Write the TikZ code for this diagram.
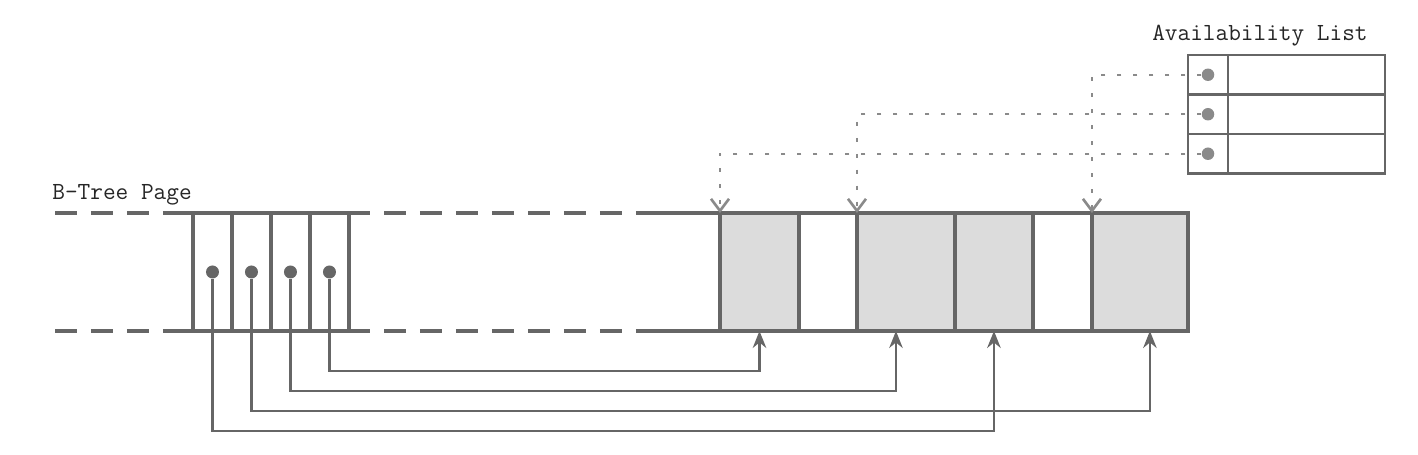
\documentclass[tikz,border=0pt]{standalone}
\usepackage{fontspec}
\usepackage{xcolor}
\usepackage{tikz}
\usetikzlibrary{
    arrows.meta,
    positioning,
    calc
}
\definecolor{pageline}{HTML}{666666}
\definecolor{usedfill}{HTML}{DCDCDC}
\definecolor{freeline}{HTML}{8A8A8A}
\definecolor{labeltext}{HTML}{262626}
\tikzset{
    page line/.style={
        draw=pageline, line width=2.2pt
    },
    page dash/.style={
        page line, dash pattern=on 0.44cm off 0.28cm
    },
    slot/.style={
        rectangle, draw=pageline, line width=1.9pt,
        minimum width=0.78cm, minimum height=2.36cm,
        inner sep=0pt, outer sep=0pt
    },
    cell/.style={
        rectangle, draw=pageline, line width=1.9pt,
        minimum width=#1, minimum height=2.36cm,
        inner sep=0pt, outer sep=0pt
    },
    used cell/.style={
        cell=#1, fill=usedfill
    },
    free cell/.style={
        cell=#1, fill=white
    },
    list box/.style={
        rectangle, draw=pageline, line width=1.4pt,
        minimum width=#1, minimum height=0.79cm,
        inner sep=0pt, outer sep=0pt
    },
    ptr dot/.style={
        circle, fill=pageline, inner sep=0pt, minimum size=0.26cm
    },
    list dot/.style={
        circle, fill=freeline, inner sep=0pt, minimum size=0.25cm
    },
    ptr link/.style={
        -{Stealth[length=0.34cm, width=0.27cm]}, draw=pageline,
        line width=1.3pt
    },
    free link/.style={
        -{Straight Barb[length=0.24cm, width=0.36cm, line width=1.5pt]},
        draw=freeline, line width=1.4pt,
        dash pattern=on 0.08cm off 0.24cm
    },
    title/.style={
        font=\fontsize{14}{16}\selectfont\ttfamily, text=labeltext,
        inner sep=0pt
    },
}

\begin{document}
\begin{tikzpicture}[x=0.02cm, y=-0.02cm]

    \useasboundingbox (0,0) rectangle (1418,454);

    % Page edges
    \draw[page dash] (55,213) -- (168,213);
    \draw[page dash] (55,331) -- (168,331);
    \draw[page line] (166,213) -- (370,213);
    \draw[page line] (166,331) -- (370,331);
    \draw[page dash] (384,213) -- (652,213);
    \draw[page dash] (384,331) -- (652,331);
    \draw[page line] (650,213) -- (1188,213);
    \draw[page line] (650,331) -- (1188,331);

    \node[title, anchor=base west] (pagetitle) at (52,199) {B-Tree Page};

    % Cell pointers
    \node[slot, anchor=north west] (s1) at (193,213) {};
    \node[slot, right=0pt of s1] (s2) {};
    \node[slot, right=0pt of s2] (s3) {};
    \node[slot, right=0pt of s3] (s4) {};

    \foreach \i in {1,...,4}
        \node[ptr dot] (p\i) at (s\i.center) {};

    % Cells
    \node[used cell=1.58cm, anchor=north west] (c1) at (720,213) {};
    \node[free cell=1.16cm, right=0pt of c1] (c2) {};
    \node[used cell=1.96cm, right=0pt of c2] (c3) {};
    \node[used cell=1.56cm, right=0pt of c3] (c4) {};
    \node[free cell=1.18cm, right=0pt of c4] (c5) {};
    \node[used cell=1.92cm, right=0pt of c5] (c6) {};

    \draw[ptr link] (p4) -- ++(0,99) -| (c1.south);
    \draw[ptr link] (p3) -- ++(0,119) -| ($(c3.south)+(-10,0)$);
    \draw[ptr link] (p2) -- ++(0,139) -| ($(c6.south)+(10,0)$);
    \draw[ptr link] (p1) -- ++(0,159) -| (c4.south);

    % Availability list
    \node[title, anchor=base east] (listtitle) at (1368,40) {Availability List};

    \node[list box=0.8cm, anchor=north west] (k1) at (1188,55) {};
    \node[list box=3.14cm, right=0pt of k1] (v1) {};
    \node[list box=0.8cm, below=0pt of k1] (k2) {};
    \node[list box=3.14cm, right=0pt of k2] (v2) {};
    \node[list box=0.8cm, below=0pt of k2] (k3) {};
    \node[list box=3.14cm, right=0pt of k3] (v3) {};

    \foreach \i in {1,2,3}
        \node[list dot] (d\i) at (k\i.center) {};

    \draw[free link] (d1) -| (c6.north west);
    \draw[free link] (d2) -| (c3.north west);
    \draw[free link] (d3) -| (c1.north west);

\end{tikzpicture}
\end{document}
